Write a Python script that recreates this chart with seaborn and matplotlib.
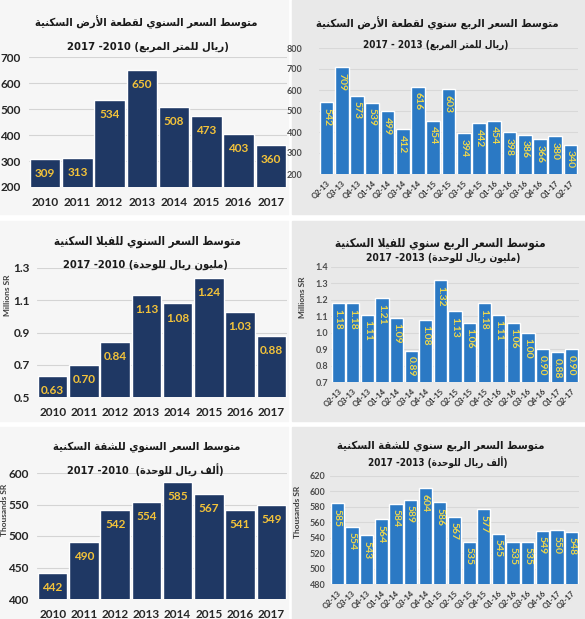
import numpy as np
import pandas as pd
import seaborn as sns
import matplotlib.pyplot as plt
from matplotlib.patches import Rectangle

# ---- data ----
years = ['2010', '2011', '2012', '2013', '2014', '2015', '2016', '2017']
quarters = ['Q2-13', 'Q3-13', 'Q4-13', 'Q1-14', 'Q2-14', 'Q3-14', 'Q4-14', 'Q1-15', 'Q2-15',
            'Q3-15', 'Q4-15', 'Q1-16', 'Q2-16', 'Q3-16', 'Q4-16', 'Q1-17', 'Q2-17']

land_year = [309, 313, 534, 650, 508, 473, 403, 360]
land_quarter = [542, 709, 573, 539, 499, 412, 616, 454, 603, 394, 442, 454, 398, 386, 366, 380, 340]
villa_year = [0.63, 0.70, 0.84, 1.13, 1.08, 1.24, 1.03, 0.88]
villa_quarter = [1.18, 1.18, 1.11, 1.21, 1.09, 0.89, 1.08, 1.32, 1.13, 1.06, 1.18, 1.11, 1.06,
                 1.00, 0.90, 0.88, 0.90]
apt_year = [442, 490, 542, 554, 585, 567, 541, 549]
apt_quarter = [585, 554, 543, 564, 584, 589, 604, 586, 567, 535, 577, 545, 535, 535, 549, 550, 548]

land_year_ticks = [200, 300, 400, 500, 600, 700]
land_quarter_ticks = [200, 300, 400, 500, 600, 700, 800]
villa_year_ticks = [0.5, 0.7, 0.9, 1.1, 1.3]
villa_quarter_ticks = [0.7, 0.8, 0.9, 1.0, 1.1, 1.2, 1.3, 1.4]
apt_year_ticks = [400, 450, 500, 550, 600]
apt_quarter_ticks = [480, 500, 520, 540, 560, 580, 600, 620]

# ---- minimal arabic shaping (matplotlib has no complex text layout) ----
FORMS = {
    'ا': (0xFE8D, 2), 'أ': (0xFE83, 2), 'ب': (0xFE8F, 4), 'ة': (0xFE93, 2), 'ت': (0xFE95, 4),
    'ح': (0xFEA1, 4), 'د': (0xFEA9, 2), 'ر': (0xFEAD, 2), 'س': (0xFEB1, 4), 'ش': (0xFEB5, 4),
    'ض': (0xFEBD, 4), 'ط': (0xFEC1, 4), 'ع': (0xFEC9, 4), 'ف': (0xFED1, 4), 'ق': (0xFED5, 4),
    'ك': (0xFED9, 4), 'ل': (0xFEDD, 4), 'م': (0xFEE1, 4), 'ن': (0xFEE5, 4), 'و': (0xFEED, 2),
    'ي': (0xFEF1, 4),
}
LAM_ALEF = {'ا': 0xFEFB, 'أ': 0xFEF7}


def ar(s):
    tokens = []
    i = 0
    while i < len(s):
        if s[i] == 'ل' and i + 1 < len(s) and s[i + 1] in LAM_ALEF:
            tokens.append(('LA', s[i + 1]))
            i += 2
        else:
            tokens.append(('C', s[i]))
            i += 1

    def is_ar(t):
        return t[0] == 'LA' or t[1] in FORMS

    def joins_next(t):
        return t[0] == 'C' and t[1] in FORMS and FORMS[t[1]][1] == 4

    out = []
    for k, t in enumerate(tokens):
        prev = tokens[k - 1] if k > 0 else None
        nxt = tokens[k + 1] if k + 1 < len(tokens) else None
        p = prev is not None and joins_next(prev)
        if t[0] == 'LA':
            out.append(chr(LAM_ALEF[t[1]] + (1 if p else 0)))
            continue
        c = t[1]
        if c not in FORMS:
            out.append(c)
            continue
        base, n = FORMS[c]
        nx = n == 4 and nxt is not None and is_ar(nxt)
        if p and nx:
            out.append(chr(base + 3))
        elif p:
            out.append(chr(base + 1))
        elif nx:
            out.append(chr(base + 2))
        else:
            out.append(chr(base))
    return ''.join(out)[::-1]


W, H = 585, 619
sns.set_style('white')
plt.rcParams['font.family'] = ['Lato', 'DejaVu Sans']

fig = plt.figure(figsize=(W / 100, H / 100), dpi=100)

LEFT_BG = '#f6f6f6'
RIGHT_BG = '#e9e9e9'
NAVY = '#1f3864'
BLUE = '#2b79c4'
GOLD = '#f3c33a'
GOLD2 = '#efd84c'

# panel backgrounds (pixel boxes: ytop, ybot)
rows = [(0, 214), (221, 421), (427, 619)]
for (yt, yb) in rows:
    fig.patches.append(Rectangle((0, 1 - yb / H), 288 / W, (yb - yt) / H,
                                 transform=fig.transFigure, color=LEFT_BG, zorder=-5))
    fig.patches.append(Rectangle((292 / W, 1 - yb / H), (W - 292) / W, (yb - yt) / H,
                                 transform=fig.transFigure, color=RIGHT_BG, zorder=-5))


def box(x0, x1, yt, yb):
    return [x0 / W, 1 - yb / H, (x1 - x0) / W, (yb - yt) / H]


def style_axis(ax, ticks, fmt, grid_color):
    ax.set_ylim(ticks[0], ticks[-1])
    ax.set_yticks(ticks)
    ax.set_yticklabels([fmt.format(t) for t in ticks])
    ax.set_facecolor('none')
    ax.yaxis.grid(True, color=grid_color, lw=0.8)
    ax.set_axisbelow(True)
    for s in ax.spines.values():
        s.set_visible(False)
    ax.set_xlabel('')
    ax.set_ylabel('')


def yearly(rect, vals, ticks, fmt, lab_fmt, ypad):
    ax = fig.add_axes(box(*rect))
    df = pd.DataFrame({'year': years, 'value': vals})
    sns.barplot(data=df, x='year', y='value', color=NAVY, saturation=1, width=0.94,
                errorbar=None, ax=ax)
    style_axis(ax, ticks, fmt, '#d4d4d4')
    ax.set_xlim(-0.5, len(years) - 0.5)
    ax.tick_params(length=0, labelsize=8.5, colors='#262626')
    ax.tick_params(axis='y', pad=ypad)
    ax.tick_params(axis='x', pad=7)
    for lab in ax.get_xticklabels() + ax.get_yticklabels():
        lab.set_fontweight('bold')
    for i, v in enumerate(vals):
        ax.annotate(lab_fmt.format(v), xy=(i, v), xytext=(0, -6.5), textcoords='offset points',
                    ha='center', va='top', color=GOLD, fontsize=8.5, fontweight='bold')
    return ax


def quarterly(rect, vals, ticks, fmt, ypad):
    ax = fig.add_axes(box(*rect))
    df = pd.DataFrame({'quarter': quarters, 'value': vals})
    sns.barplot(data=df, x='quarter', y='value', color=BLUE, saturation=1, width=0.9,
                errorbar=None, ax=ax)
    style_axis(ax, ticks, fmt, '#d8d8d8')
    ax.set_xlim(-0.5, len(quarters) - 0.5)
    ax.tick_params(length=0, labelsize=6.5, colors='#4d4d4d')
    ax.tick_params(axis='y', pad=ypad)
    ax.tick_params(axis='x', pad=4, labelsize=5.5, colors='#333333')
    plt.setp(ax.get_xticklabels(), rotation=45, ha='right', rotation_mode='anchor')
    for lab in ax.get_xticklabels() + ax.get_yticklabels():
        lab.set_fontweight('bold')
    lab_fmt = '{:.2f}' if ticks[-1] < 10 else '{:.0f}'
    for i, v in enumerate(vals):
        ax.annotate(lab_fmt.format(v), xy=(i, v), xytext=(0, -4), textcoords='offset points',
                    ha='center', va='top', rotation=270, color=GOLD2, fontsize=7.5,
                    fontweight='bold')
    return ax


yearly((29, 287, 57, 187), land_year, land_year_ticks, '{:.0f}', '{:.0f}', 6)
quarterly((319, 578, 48, 174), land_quarter, land_quarter_ticks, '{:.0f}', 12)
yearly((37, 287, 268, 397), villa_year, villa_year_ticks, '{:.1f}', '{:.2f}', 5)
quarterly((331, 579, 267, 382), villa_quarter, villa_quarter_ticks, '{:.1f}', 2)
yearly((37, 287, 473, 599), apt_year, apt_year_ticks, '{:.0f}', '{:.0f}', 6)
quarterly((330, 579, 476, 584), apt_quarter, apt_quarter_ticks, '{:.0f}', 3)

# titles: (x center, y center, text, target width in px)
TFONT = ['DejaVu Sans Condensed', 'DejaVu Sans']
titles = [
    (146, 22, ar('متوسط السعر السنوي لقطعة الأرض السكنية'), 225),
    (148, 47, '2017 -2010 (' + ar('ريال للمتر المربع') + ')', 164),
    (437, 23, ar('متوسط السعر الربع سنوي لقطعة الأرض السكنية'), 245),
    (436, 45, '2017 - 2013 (' + ar('ريال للمتر المربع') + ')', 146),
    (147, 242, ar('متوسط السعر السنوي للفيلا السكنية'), 188),
    (145, 265, '2017 -2010 (' + ar('مليون ريال للوحدة') + ')', 166),
    (440, 243, ar('متوسط السعر الربع سنوي للفيلا السكنية'), 212),
    (443, 258, '2017 -2013 (' + ar('مليون ريال للوحدة') + ')', 155),
    (147, 447, ar('متوسط السعر السنوي للشقة السكنية'), 188),
    (145, 470, '2017 -2010  (' + ar('ألف ريال للوحدة') + ')', 158),
    (441, 446, ar('متوسط السعر الربع سنوي للشقة السكنية'), 210),
    (438, 463, '2017 -2013 (' + ar('ألف ريال للوحدة') + ')', 140),
]
renderer = fig.canvas.get_renderer()
for x, y, txt, target in titles:
    t = fig.text(x / W, 1 - y / H, txt, ha='center', va='center', fontsize=10,
                 fontweight='bold', family=TFONT, fontstretch='condensed', color='#1a1a1a')
    w = t.get_window_extent(renderer).width
    t.set_fontsize(10 * target / w)

ylabels = [(7, 295, 'Millions SR'), (302, 297, 'Millions SR'),
           (5, 510, 'Thousands SR'), (297, 512, 'Thousands SR')]
for x, y, txt in ylabels:
    fig.text(x / W, 1 - y / H, txt, ha='center', va='center', rotation=90, fontsize=6,
             fontweight='bold', color='#404040')

fig.savefig('out.png', dpi=100)
